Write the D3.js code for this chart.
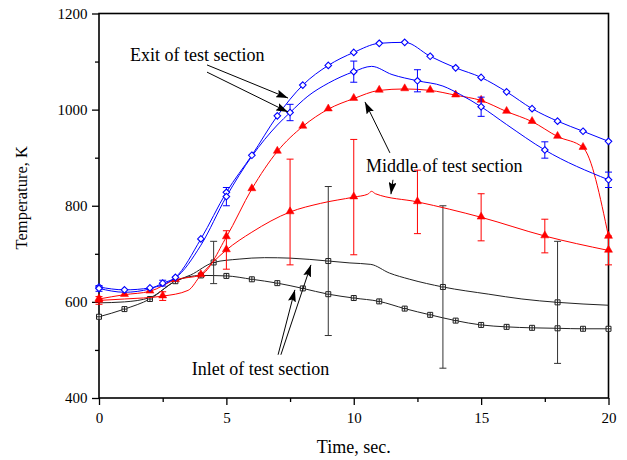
<!DOCTYPE html>
<html>
<head>
<meta charset="utf-8">
<script src="https://cdn.jsdelivr.net/npm/d3@7/dist/d3.min.js"></script>
<style>
  html, body { margin: 0; padding: 0; background: #fff; }
  svg { display: block; }
  text { font-family: "Liberation Serif", "Times New Roman", serif; fill: #000; }
</style>
</head>
<body>
<svg id="chart" width="627" height="460"></svg>
<script>
// ---------------- data ----------------
const xTicks = [0, 5, 10, 15, 20];
const xMinorTicks = [2.5, 7.5, 12.5, 17.5];
const yTicks = [400, 600, 800, 1000, 1200];
const yMinorTicks = [500, 700, 900, 1100];

// series with a marker every second
const simTime = [0,1,2,3,4,5,6,7,8,9,10,11,12,13,14,15,16,17,18,19,20];
const exitSim   = [631,625,629,651,731,828,905,987,1051,1092,1119,1138,1140,1111,1087,1067,1037,1002,976,955,934];
const middleSim = [606,615,622,646,656,735,835,913,965,1001,1023,1040,1043,1040,1030,1019,996,975,944,921,736];
const inletSim  = [569,585,606,643,655,654,647,639,628,616,608,601,586,573,561,552,548,546,545,544,544];

// lines carrying error-bar points
const exitLineTime = [0,1,2,2.5,3,4,5,6,7,7.5,8.2,9,10,10.7,11.5,12.5,13.5,14.2,15,16,17.5,20];
const exitLine     = [628,620,627,639,650,718,819,903,968,994,1028,1055,1079,1090,1073,1060,1049,1031,1006,969,916,854];
const middleLineTime = [0,1,2.5,3.5,4,5,6,7.5,8.7,10,10.55,10.7,10.85,12.5,15,17.5,20];
const middleLine     = [603,606,612,624,656,708,745,787,805,818,824,830,825,808,776,737,707];
const inletLineTime = [0,1,2,3,3.6,4.5,5.5,6.5,7.5,9,9.85,10.67,11.4,12.2,13.5,15.3,16.6,18,20];
const inletLine     = [598,600,609,643,656,682,689,692,691,685,681,678,660,647,631,616,606,599,593];

// error-bar points
const exitErrTime = [0,2.5,5,7.5,10,12.5,15,17.5,20];
const exitErrVal  = [628,639,819,994,1079,1060,1006,916,854];
const exitErr     = [6,6,19,17,22,23,20,17,16];
const middleErrTime = [0,2.5,5,7.5,10,12.5,15,17.5,20];
const middleErrVal  = [603,612,708,787,818,808,776,737,707];
const middleErr     = [8,9,40,110,120,66,49,35,30];
const inletErrTime = [4.5,9,13.5,18];
const inletErrVal  = [682,685,631,599];
const inletErr     = [44,155,169,127];

// annotations (data coordinates)
const labels = [
  {text: "Exit of test section",   t: 1.22, v: 1101},
  {text: "Middle of test section", t: 10.48, v: 870},
  {text: "Inlet of test section",  t: 3.64, v: 448}
];
const arrows = [
  {t0: 4.24, v0: 1093, t1: 7.42, v1: 1024},
  {t0: 4.24, v0: 1078, t1: 7.42, v1: 995},
  {t0: 11.42, v0: 910, t1: 10.44, v1: 1016},
  {t0: 11.54, v0: 854, t1: 11.46, v1: 824},
  {t0: 7.03, v0: 490, t1: 7.69, v1: 625},
  {t0: 7.14, v0: 490, t1: 8.32, v1: 677}
];

// ---------------- drawing ----------------
const svg = d3.select("#chart");
const x = d3.scaleLinear().domain([0, 20]).range([99, 608.5]);
const y = d3.scaleLinear().domain([400, 1200]).range([398, 13.5]);

const BLUE = "#0000ff", RED = "#ff0000";

// axes
const gx = svg.append("g").attr("transform", `translate(0,${y(400)})`);
gx.call(d3.axisBottom(x).tickValues(xTicks).tickSize(7).tickPadding(7).tickFormat(d3.format("d")));
const gxm = svg.append("g").attr("transform", `translate(0,${y(400)})`);
gxm.call(d3.axisBottom(x).tickValues(xMinorTicks).tickSize(4).tickFormat(""));
const gy = svg.append("g").attr("transform", `translate(${x(0)},0)`);
gy.call(d3.axisLeft(y).tickValues(yTicks).tickSize(7).tickPadding(4.5).tickFormat(d3.format("d")));
const gym = svg.append("g").attr("transform", `translate(${x(0)},0)`);
gym.call(d3.axisLeft(y).tickValues(yMinorTicks).tickSize(4).tickFormat(""));

svg.selectAll(".domain").remove();
svg.selectAll(".tick line").attr("stroke", "#000").attr("stroke-width", 1.3);
svg.selectAll(".tick text").style("font-size", "15px").style("font-family", '"Liberation Serif", serif').attr("fill", "#000");

// frame
svg.append("rect")
  .attr("x", x(0)).attr("y", y(1200))
  .attr("width", x(20) - x(0)).attr("height", y(400) - y(1200))
  .attr("fill", "none").attr("stroke", "#000").attr("stroke-width", 1.6);

// axis titles
svg.append("text")
  .attr("x", (x(0) + x(20)) / 2).attr("y", 453)
  .attr("text-anchor", "middle").style("font-size", "18px")
  .text("Time, sec.");
svg.append("text")
  .attr("transform", `translate(27,${(y(400) + y(1200)) / 2 - 8}) rotate(-90)`)
  .attr("text-anchor", "middle").style("font-size", "16.5px")
  .text("Temperature, K");

const line = d3.line().x(d => x(d[0])).y(d => y(d[1])).curve(d3.curveMonotoneX);
const zip = (a, b) => a.map((v, i) => [v, b[i]]);

function drawLine(ts, vs, color, w) {
  svg.append("path").datum(zip(ts, vs))
    .attr("d", line).attr("fill", "none").attr("stroke", color).attr("stroke-width", w || 1);
}
function drawErr(ts, vs, es, color, capW) {
  const g = svg.append("g").attr("stroke", color).attr("stroke-width", 1).attr("fill", "none");
  ts.forEach((t, i) => {
    const cx = x(t), y0 = y(vs[i] - es[i]), y1 = y(vs[i] + es[i]);
    g.append("line").attr("x1", cx).attr("x2", cx).attr("y1", y0).attr("y2", y1);
    g.append("line").attr("x1", cx - capW/2).attr("x2", cx + capW/2).attr("y1", y0).attr("y2", y0);
    g.append("line").attr("x1", cx - capW/2).attr("x2", cx + capW/2).attr("y1", y1).attr("y2", y1);
  });
}
function diamonds(ts, vs) {
  const r = 3.3;
  svg.append("g").selectAll("path").data(zip(ts, vs)).join("path")
    .attr("d", d => {
      const cx = x(d[0]), cy = y(d[1]);
      return `M${cx},${cy - r}L${cx + r},${cy}L${cx},${cy + r}L${cx - r},${cy}Z`;
    })
    .attr("fill", "#fff").attr("stroke", BLUE).attr("stroke-width", 1.1);
}
function triangles(ts, vs) {
  svg.append("g").selectAll("path").data(zip(ts, vs)).join("path")
    .attr("d", d3.symbol().type(d3.symbolTriangle).size(28))
    .attr("transform", d => `translate(${x(d[0])},${y(d[1]) - 0.5})`)
    .attr("fill", RED).attr("stroke", RED).attr("stroke-width", 0.5);
}
function squares(ts, vs) {
  const r = 2.5;
  svg.append("g").selectAll("path").data(zip(ts, vs)).join("path")
    .attr("d", d => {
      const cx = x(d[0]), cy = y(d[1]);
      return `M${cx - r},${cy - r}h${2*r}v${2*r}h${-2*r}Z M${cx - r},${cy}h${2*r} M${cx},${cy - r}v${2*r}`;
    })
    .attr("fill", "#fff").attr("stroke", "#222").attr("stroke-width", 1);
}

// inlet
drawLine(inletLineTime, inletLine, "#222", 1);
drawLine(simTime, inletSim, "#222", 1);
drawErr(inletErrTime, inletErrVal, inletErr, "#333", 7);
squares(simTime, inletSim);
squares(inletErrTime, inletErrVal);

// middle
drawLine(middleLineTime, middleLine, RED, 1);
drawLine(simTime, middleSim, RED, 1);
drawErr(middleErrTime, middleErrVal, middleErr, RED, 7);
triangles(simTime, middleSim);
triangles(middleErrTime, middleErrVal);

// exit
drawLine(exitLineTime, exitLine, BLUE, 1);
drawLine(simTime, exitSim, BLUE, 1);
drawErr(exitErrTime, exitErrVal, exitErr, BLUE, 7);
diamonds(simTime, exitSim);
diamonds(exitErrTime, exitErrVal);

// annotations
const defs = svg.append("defs");
defs.append("marker").attr("id", "ah")
  .attr("markerUnits", "userSpaceOnUse")
  .attr("viewBox", "0 0 12 8").attr("refX", 12).attr("refY", 4)
  .attr("markerWidth", 12).attr("markerHeight", 8).attr("orient", "auto")
  .append("path").attr("d", "M0,0L12,4L0,8L2,4Z").attr("fill", "#000");

svg.append("g").selectAll("line").data(arrows).join("line")
  .attr("x1", d => x(d.t0)).attr("y1", d => y(d.v0))
  .attr("x2", d => x(d.t1)).attr("y2", d => y(d.v1))
  .attr("stroke", "#000").attr("stroke-width", 1)
  .attr("marker-end", "url(#ah)");

svg.append("g").selectAll("text").data(labels).join("text")
  .attr("x", d => x(d.t)).attr("y", d => y(d.v))
  .style("font-size", "18px")
  .text(d => d.text);
</script>
</body>
</html>
